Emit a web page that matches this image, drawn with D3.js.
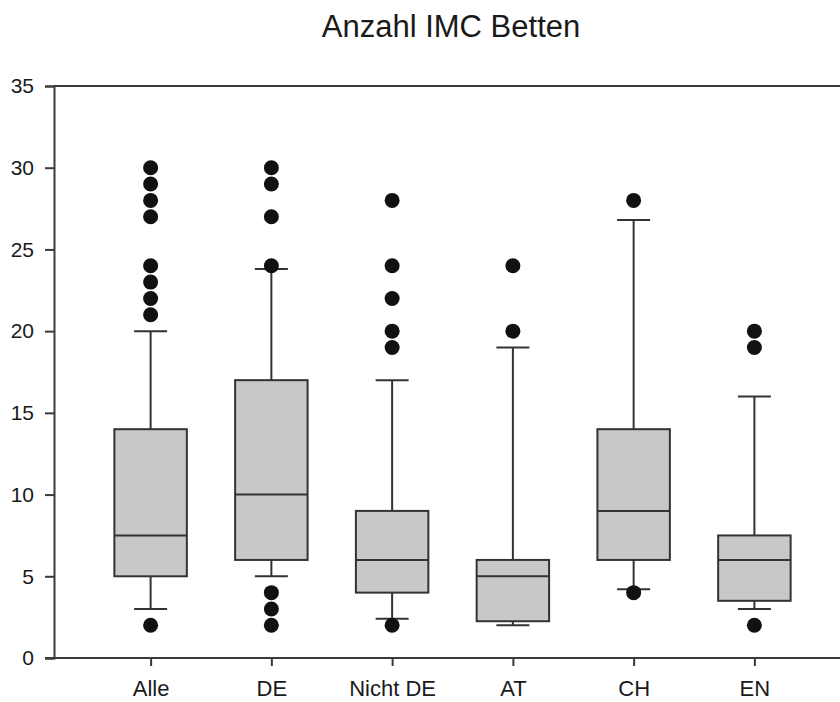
<!DOCTYPE html>
<html>
<head>
<meta charset="utf-8">
<script src="https://cdn.jsdelivr.net/npm/d3@7"></script>
<style>
  html, body { margin: 0; padding: 0; background: #ffffff; }
  svg { display: block; font-family: "Liberation Sans", Arial, sans-serif; }
</style>
</head>
<body>
<svg id="chart" width="840" height="702"></svg>
<script>
const title = "Anzahl IMC Betten";
const categories = ["Alle", "DE", "Nicht DE", "AT", "CH", "EN"];
const q1 = [5, 6, 4, 2.25, 6, 3.5];
const median = [7.5, 10, 6, 5, 9, 6];
const q3 = [14, 17, 9, 6, 14, 7.5];
const whiskerLow = [3, 5, 2.4, 2, 4.2, 3];
const whiskerHigh = [20, 23.8, 17, 19, 26.8, 16];
const outliers = [
  [2, 21, 22, 23, 24, 27, 28, 29, 30],
  [2, 3, 4, 24, 27, 29, 30],
  [2, 19, 20, 22, 24, 28],
  [20, 24],
  [4, 28],
  [2, 19, 20]
];
const yTicks = [0, 5, 10, 15, 20, 25, 30, 35];

const svg = d3.select("#chart");
const mLeft = 54, mRight = 851, mTop = 86, mBottom = 658;
const axisColor = "#3a3a3a";

const x = d3.scalePoint().domain(categories).range([mLeft, mRight]).padding(0.8);
const y = d3.scaleLinear().domain([0, 35]).range([mBottom, mTop]);
const boxW = x.step() * 0.6;
const capW = 33;

// title
svg.append("text")
  .attr("x", 451).attr("y", 37)
  .attr("text-anchor", "middle")
  .attr("font-size", 31)
  .attr("fill", "#1a1a1a")
  .text(title);

// frame top line
svg.append("line")
  .attr("x1", mLeft).attr("x2", mRight)
  .attr("y1", y(35)).attr("y2", y(35))
  .attr("stroke", axisColor).attr("stroke-width", 2);

// y axis
const yAxis = svg.append("g")
  .attr("transform", `translate(${mLeft},0)`)
  .call(d3.axisLeft(y).tickValues(yTicks).tickSize(9).tickPadding(11).tickFormat(d3.format("d")));
yAxis.select(".domain").attr("stroke", axisColor).attr("stroke-width", 2);
yAxis.selectAll(".tick line").attr("stroke", axisColor).attr("stroke-width", 2);
yAxis.selectAll(".tick text").attr("font-size", 21).attr("fill", "#1a1a1a")
  .attr("font-family", "Liberation Sans, Arial, sans-serif");

// x axis
const xAxis = svg.append("g")
  .attr("transform", `translate(0,${mBottom})`)
  .call(d3.axisBottom(x).tickSize(8).tickPadding(14).tickSizeOuter(0));
xAxis.select(".domain").attr("stroke", axisColor).attr("stroke-width", 2)
  .attr("d", `M${mLeft - 9},0H${mRight}`);
xAxis.selectAll(".tick line").attr("stroke", axisColor).attr("stroke-width", 2);
xAxis.selectAll(".tick text").attr("font-size", 22).attr("fill", "#1a1a1a")
  .attr("font-family", "Liberation Sans, Arial, sans-serif");

// boxes
const data = categories.map((c, i) => ({
  c, q1: q1[i], med: median[i], q3: q3[i], lo: whiskerLow[i], hi: whiskerHigh[i], out: outliers[i]
}));

const g = svg.append("g");
data.forEach(d => {
  const cx = x(d.c);
  const stroke = "#333333";
  g.append("line").attr("x1", cx).attr("x2", cx).attr("y1", y(d.q3)).attr("y2", y(d.hi))
    .attr("stroke", stroke).attr("stroke-width", 2);
  g.append("line").attr("x1", cx).attr("x2", cx).attr("y1", y(d.q1)).attr("y2", y(d.lo))
    .attr("stroke", stroke).attr("stroke-width", 2);
  g.append("line").attr("x1", cx - capW / 2).attr("x2", cx + capW / 2).attr("y1", y(d.hi)).attr("y2", y(d.hi))
    .attr("stroke", stroke).attr("stroke-width", 2);
  g.append("line").attr("x1", cx - capW / 2).attr("x2", cx + capW / 2).attr("y1", y(d.lo)).attr("y2", y(d.lo))
    .attr("stroke", stroke).attr("stroke-width", 2);
  g.append("rect")
    .attr("x", cx - boxW / 2).attr("width", boxW)
    .attr("y", y(d.q3)).attr("height", y(d.q1) - y(d.q3))
    .attr("fill", "#c8c8c8").attr("stroke", stroke).attr("stroke-width", 2);
  g.append("line").attr("x1", cx - boxW / 2).attr("x2", cx + boxW / 2).attr("y1", y(d.med)).attr("y2", y(d.med))
    .attr("stroke", stroke).attr("stroke-width", 2);
  d.out.forEach(v => {
    g.append("circle").attr("cx", cx).attr("cy", y(v)).attr("r", 7.5).attr("fill", "#111111");
  });
});
</script>
</body>
</html>
